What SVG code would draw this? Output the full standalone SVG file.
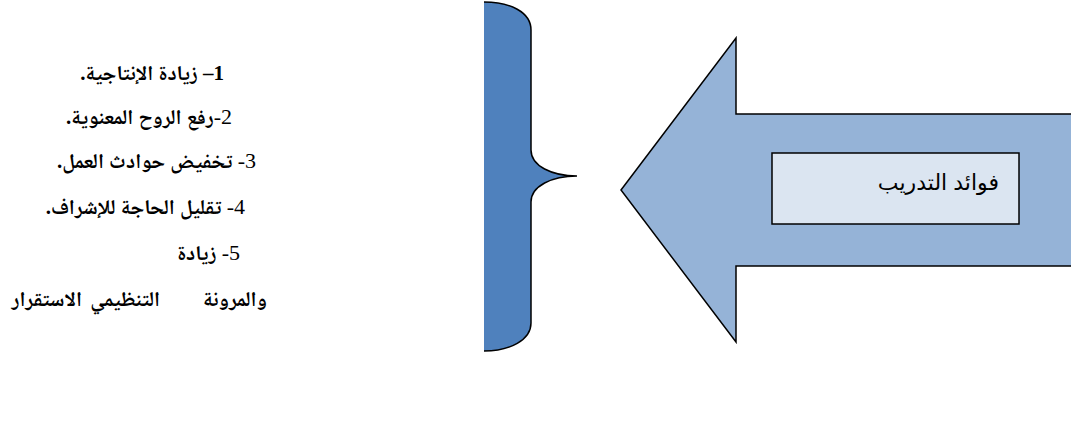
<svg xmlns="http://www.w3.org/2000/svg" width="1071" height="425" viewBox="0 0 1071 425">
<style>
.item{font-family:"Liberation Serif","Noto Naskh Arabic","DejaVu Sans",serif;font-size:21px;font-weight:bold;fill:#000;direction:rtl;text-anchor:start}
.num{font-weight:normal;font-size:22px}
.lbl{font-family:"Liberation Sans","DejaVu Sans",sans-serif;font-size:22px;fill:#000;direction:rtl;text-anchor:start}
.edge{fill:none;stroke:#000;stroke-width:1.5}
</style>
<rect width="1071" height="425" fill="#fff"/>
<g id="benefits-list">
<text class="item" x="224" y="80">1– زيادة الإنتاجية.</text>
<text class="item" x="232" y="124"><tspan class="num">2-</tspan>رفع الروح المعنوية.</text>
<text class="item" x="256" y="168"><tspan class="num">3-</tspan>  تخفيض حوادث العمل.</text>
<text class="item" x="245" y="214"><tspan class="num">4-</tspan> تقليل الحاجة للإشراف.</text>
<text class="item" x="240" y="260"><tspan class="num">5-</tspan>  زيادة</text>
<text class="item" x="267" y="306">والمرونة</text>
<text class="item" x="160" y="306">التنظيمي</text>
<text class="item" x="82" y="306">الاستقرار</text>
</g>
<g id="brace">
<path d="M484,2 C510,2 531,12 531,30 L531,150 C531,166 552,176 577,176 C552,176 531,186 531,202 L531,323 C531,340 510,351 484,351 Z" fill="#4F81BD"/>
<path class="edge" d="M484,2 C510,2 531,12 531,30 L531,150 C531,166 552,176 577,176 C552,176 531,186 531,202 L531,323 C531,340 510,351 484,351"/>
</g>
<g id="arrow">
<polygon points="621,190 736,38 736,114 1075,114 1075,266 736,266 736,342" fill="#95B3D7" stroke="#000" stroke-width="1.5" stroke-linejoin="miter"/>
</g>
<g id="label-box">
<rect x="772" y="153" width="247" height="71" fill="#DBE5F1" stroke="#000" stroke-width="1.5"/>
<text class="lbl" x="999" y="190">فوائد التدريب</text>
</g>
</svg>
